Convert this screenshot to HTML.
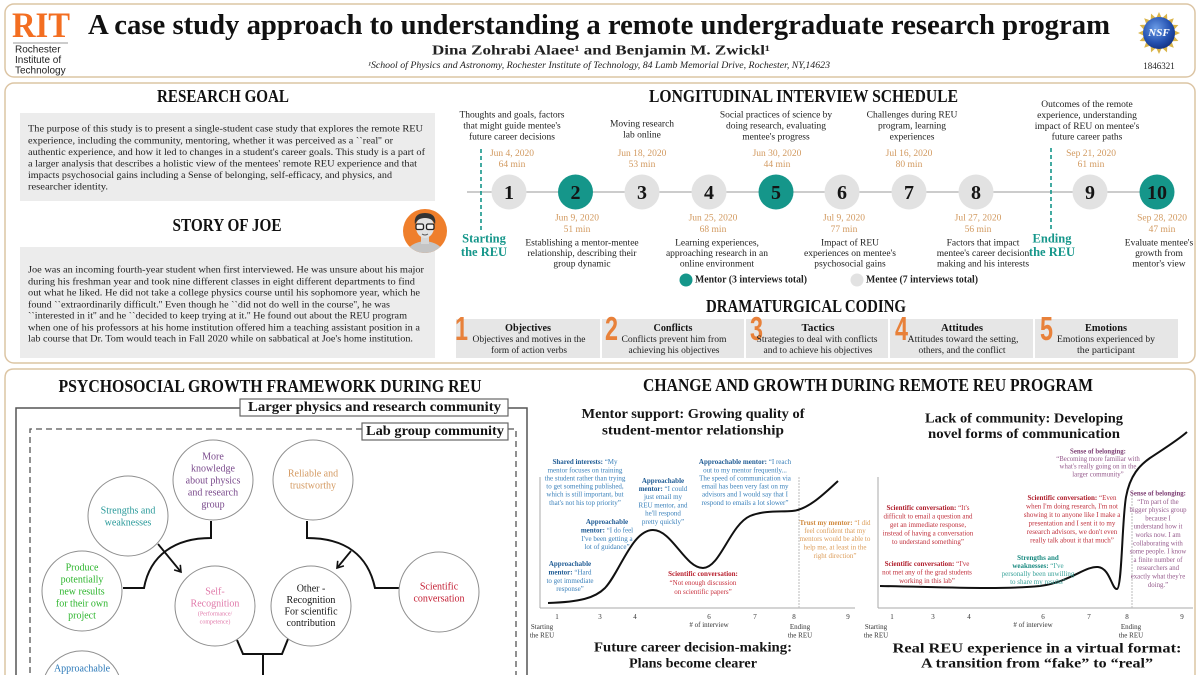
<!DOCTYPE html>
<html><head><meta charset="utf-8">
<style>
html,body{margin:0;padding:0;background:#fff;width:1200px;height:675px;overflow:hidden;}
svg{display:block;overflow:hidden;}
text{font-family:"Liberation Serif",serif;dominant-baseline:central;fill:#1a1a1a;}
.m{text-anchor:middle;}
.sans{font-family:"Liberation Sans",sans-serif;}
.h{font-weight:bold;font-size:18px;fill:#111;}
.p{font-size:9.3px;fill:#222;}
.t{font-size:9.5px;fill:#222;}
.d{font-size:9.5px;fill:#d29a60;}
.n{font-size:20px;font-weight:bold;fill:#151515;}
.c7{font-size:7px;}
.c6{font-size:6.8px;}
.ct{font-size:14px;font-weight:bold;fill:#151515;}
.ax{font-size:7px;fill:#333;}
.fc{font-size:10px;}
.dn{font-size:33px;font-weight:bold;fill:#e8813a;font-family:"Liberation Sans",sans-serif;dominant-baseline:alphabetic;}
.db{font-size:10.5px;font-weight:bold;fill:#151515;}
.dd{font-size:9.6px;fill:#222;}
</style></head><body>
<svg width="1200" height="675" viewBox="0 0 1200 675" xmlns="http://www.w3.org/2000/svg">
<defs>
 <marker id="ah" markerWidth="10" markerHeight="10" refX="7" refY="5" orient="auto" markerUnits="userSpaceOnUse"><path d="M1,1 L7,5 L1,9" fill="none" stroke="#111" stroke-width="1.6"/></marker>
 <radialGradient id="nsfg" cx="0.4" cy="0.35" r="0.75"><stop offset="0" stop-color="#6a9be6"/><stop offset="0.6" stop-color="#2451b0"/><stop offset="1" stop-color="#0f2a78"/></radialGradient>
 <clipPath id="av"><circle cx="425" cy="231" r="22"/></clipPath>
 <clipPath id="page"><rect x="0" y="0" width="1200" height="675"/></clipPath>
</defs>
<g clip-path="url(#page)">
<rect width="1200" height="675" fill="#fff"/>

<!-- panels -->
<rect x="5" y="4" width="1190" height="73" rx="9" fill="#fff" stroke="#dcc5a4" stroke-width="1.5"/>
<rect x="5" y="83" width="1190" height="280" rx="9" fill="#fff" stroke="#dcc5a4" stroke-width="1.5"/>
<path d="M5 675 V378 Q5 369 14 369 H1186 Q1195 369 1195 378 V675" fill="#fff" stroke="#dcc5a4" stroke-width="1.5"/>

<!-- header -->
<text x="12" y="25" font-size="36" font-weight="bold" style="fill:#f36e21" textLength="58" lengthAdjust="spacingAndGlyphs">RIT</text>
<line x1="13" y1="43" x2="68" y2="43" stroke="#9a9a9a" stroke-width="1"/>
<text class="sans" x="15" y="50" font-size="10" style="fill:#222">Rochester</text>
<text class="sans" x="15" y="60.5" font-size="10" style="fill:#222">Institute of</text>
<text class="sans" x="15" y="71" font-size="10" style="fill:#222">Technology</text>
<text class="m" x="599" y="25" font-size="29" font-weight="bold" style="fill:#111" textLength="1022" lengthAdjust="spacingAndGlyphs">A case study approach to understanding a remote undergraduate research program</text>
<text class="m" x="601" y="50" font-size="13.5" font-weight="bold" style="fill:#222" textLength="338" lengthAdjust="spacingAndGlyphs">Dina  Zohrabi  Alaee¹ and  Benjamin  M.  Zwickl¹</text>
<text class="m" x="599" y="65" font-size="9" font-style="italic" style="fill:#222" textLength="462" lengthAdjust="spacingAndGlyphs">¹School of Physics and Astronomy, Rochester Institute of Technology, 84 Lamb Memorial Drive, Rochester, NY,14623</text>
<!-- NSF -->
<polygon fill="#d9b44a" points="1180,33 1173.7,35.9 1178.4,41 1171.5,41.3 1173.8,47.8 1167.3,45.5 1167,52.4 1161.9,47.7 1159,54 1156.1,47.7 1151,52.4 1150.7,45.5 1144.2,47.8 1146.5,41.3 1139.6,41 1144.3,35.9 1138,33 1144.3,30.1 1139.6,25 1146.5,24.7 1144.2,18.2 1150.7,20.5 1151,13.6 1156.1,18.3 1159,12 1161.9,18.3 1167,13.6 1167.3,20.5 1173.8,18.2 1171.5,24.7 1178.4,25 1173.7,30.1"/>
<circle cx="1159" cy="33" r="16" fill="url(#nsfg)"/>
<text class="m" x="1159" y="33" font-size="11" font-weight="bold" font-style="italic" style="fill:#fff">NSF</text>
<text class="m" x="1159" y="66" font-size="9" style="fill:#222">1846321</text>

<!-- research goal -->
<text class="h m" x="223" y="96" textLength="132" lengthAdjust="spacingAndGlyphs">RESEARCH GOAL</text>
<rect x="20" y="113" width="415" height="88" fill="#ececec"/>
<text class="p" x="28" y="129.5" textLength="395" lengthAdjust="spacingAndGlyphs">The purpose of this study is to present a single-student case study that explores the remote REU</text>
<text class="p" x="28" y="141.5" textLength="365" lengthAdjust="spacingAndGlyphs">experience, including the community, mentoring, whether it was perceived as a ``real'' or</text>
<text class="p" x="28" y="153" textLength="397" lengthAdjust="spacingAndGlyphs">authentic experience, and how it led to changes in a student's career goals. This study is a part of</text>
<text class="p" x="28" y="164.5" textLength="389" lengthAdjust="spacingAndGlyphs">a larger analysis that describes a holistic view of the mentees' remote REU experience and that</text>
<text class="p" x="28" y="176" textLength="364" lengthAdjust="spacingAndGlyphs">impacts psychosocial gains including a Sense of belonging, self-efficacy, and physics, and</text>
<text class="p" x="28" y="187.7" textLength="80" lengthAdjust="spacingAndGlyphs">researcher identity.</text>

<!-- story of Joe -->
<text class="h m" x="227" y="225" textLength="109" lengthAdjust="spacingAndGlyphs">STORY OF JOE</text>
<rect x="20" y="247" width="415" height="111" fill="#ececec"/>
<text class="p" x="28" y="270.7" textLength="396" lengthAdjust="spacingAndGlyphs">Joe was an incoming fourth-year student when first interviewed. He was unsure about his major</text>
<text class="p" x="28" y="282.3" textLength="387" lengthAdjust="spacingAndGlyphs">during his freshman year and took nine different classes in eight different departments to find</text>
<text class="p" x="28" y="293.7" textLength="392" lengthAdjust="spacingAndGlyphs">out what he liked. He did not take a college physics course until his sophomore year, which he</text>
<text class="p" x="28" y="305.3" textLength="362" lengthAdjust="spacingAndGlyphs">found ``extraordinarily difficult.'' Even though he ``did not do well in the course'', he was</text>
<text class="p" x="28" y="316.7" textLength="379" lengthAdjust="spacingAndGlyphs">``interested in it'' and he ``decided to keep trying at it.'' He found out about the REU program</text>
<text class="p" x="28" y="328.3" textLength="392" lengthAdjust="spacingAndGlyphs">when one of his professors at his home institution offered him a teaching assistant position in a</text>
<text class="p" x="28" y="339.7" textLength="385" lengthAdjust="spacingAndGlyphs">lab course that Dr. Tom would teach in Fall 2020 while on sabbatical at Joe's home institution.</text>

<!-- avatar -->
<circle cx="425" cy="231" r="22" fill="#ef7f2c"/>
<g clip-path="url(#av)">
 <path d="M405 258 Q406 243 425 241 Q444 243 445 258 Z" fill="#c4c4c4"/>
 <rect x="421" y="236" width="8" height="8" fill="#d6d6d6"/>
 <ellipse cx="425" cy="227" rx="9" ry="11" fill="#e2e2e2"/>
 <path d="M415 225 Q413 213 425 213 Q437 213 435 225 Q433 218 425 218 Q417 218 415 225Z" fill="#333"/>
 <rect x="416" y="224" width="7.5" height="5.5" rx="1.5" fill="#f4f4f4" stroke="#222" stroke-width="1.3"/>
 <rect x="426.5" y="224" width="7.5" height="5.5" rx="1.5" fill="#f4f4f4" stroke="#222" stroke-width="1.3"/>
 <path d="M422 234 Q425 236 428 234" fill="none" stroke="#555" stroke-width="1"/>
</g>

<!-- longitudinal schedule -->
<text class="h m" x="803.5" y="96" textLength="309" lengthAdjust="spacingAndGlyphs">LONGITUDINAL INTERVIEW SCHEDULE</text>
<line x1="467" y1="192" x2="1157" y2="192" stroke="#999" stroke-width="1"/>
<line x1="481" y1="149" x2="481" y2="232" stroke="#15968a" stroke-width="1.6" stroke-dasharray="4,3"/>
<line x1="1051" y1="148" x2="1051" y2="232" stroke="#15968a" stroke-width="1.6" stroke-dasharray="4,3"/>
<text class="m" x="484" y="238.5" font-size="12.5" font-weight="bold" style="fill:#15968a">Starting</text>
<text class="m" x="484" y="252" font-size="12.5" font-weight="bold" style="fill:#15968a">the REU</text>
<text class="m" x="1052" y="238.5" font-size="12.5" font-weight="bold" style="fill:#15968a">Ending</text>
<text class="m" x="1052" y="252" font-size="12.5" font-weight="bold" style="fill:#15968a">the REU</text>

<g>
<circle cx="509" cy="192" r="17.5" fill="#e2e2e2"/><text class="n m" x="509" y="193">1</text>
<circle cx="575.5" cy="192" r="17.5" fill="#15968a"/><text class="n m" x="575.5" y="193">2</text>
<circle cx="642" cy="192" r="17.5" fill="#e2e2e2"/><text class="n m" x="642" y="193">3</text>
<circle cx="709" cy="192" r="17.5" fill="#e2e2e2"/><text class="n m" x="709" y="193">4</text>
<circle cx="776" cy="192" r="17.5" fill="#15968a"/><text class="n m" x="776" y="193">5</text>
<circle cx="842" cy="192" r="17.5" fill="#e2e2e2"/><text class="n m" x="842" y="193">6</text>
<circle cx="909" cy="192" r="17.5" fill="#e2e2e2"/><text class="n m" x="909" y="193">7</text>
<circle cx="976" cy="192" r="17.5" fill="#e2e2e2"/><text class="n m" x="976" y="193">8</text>
<circle cx="1090" cy="192" r="17.5" fill="#e2e2e2"/><text class="n m" x="1090" y="193">9</text>
<circle cx="1157" cy="192" r="17.5" fill="#15968a"/><text class="n m" x="1157" y="193" font-size="18">10</text>
</g>

<!-- top labels -->
<text class="t m" x="512" y="115.7">Thoughts and goals, factors</text>
<text class="t m" x="512" y="126.7">that might guide mentee's</text>
<text class="t m" x="512" y="137.5">future career decisions</text>
<text class="d m" x="512" y="154">Jun 4, 2020</text>
<text class="d m" x="512" y="165">64 min</text>

<text class="t m" x="642" y="124.5">Moving research</text>
<text class="t m" x="642" y="135.5">lab online</text>
<text class="d m" x="642" y="154">Jun 18, 2020</text>
<text class="d m" x="642" y="165">53 min</text>

<text class="t m" x="776" y="115.7">Social practices of science by</text>
<text class="t m" x="776" y="126.7">doing research, evaluating</text>
<text class="t m" x="776" y="137.5">mentee's progress</text>
<text class="d m" x="777" y="154">Jun 30, 2020</text>
<text class="d m" x="777" y="165">44 min</text>

<text class="t m" x="912" y="115.7">Challenges during REU</text>
<text class="t m" x="912" y="126.7">program, learning</text>
<text class="t m" x="912" y="137.5">experiences</text>
<text class="d m" x="909" y="154">Jul 16, 2020</text>
<text class="d m" x="909" y="165">80 min</text>

<text class="t m" x="1087" y="105">Outcomes of the remote</text>
<text class="t m" x="1087" y="116">experience, understanding</text>
<text class="t m" x="1087" y="127">impact of REU on mentee's</text>
<text class="t m" x="1087" y="137.5">future career paths</text>
<text class="d m" x="1091" y="154">Sep 21, 2020</text>
<text class="d m" x="1091" y="165">61 min</text>

<!-- bottom labels -->
<text class="d m" x="577" y="218.5">Jun 9, 2020</text>
<text class="d m" x="577" y="230">51 min</text>
<text class="t m" x="582" y="243.5">Establishing a mentor-mentee</text>
<text class="t m" x="582" y="254">relationship, describing  their</text>
<text class="t m" x="582" y="264.5">group dynamic</text>

<text class="d m" x="713" y="218.5">Jun 25, 2020</text>
<text class="d m" x="713" y="230">68 min</text>
<text class="t m" x="717" y="243.5">Learning experiences,</text>
<text class="t m" x="717" y="254">approaching research in an</text>
<text class="t m" x="717" y="264.5">online environment</text>

<text class="d m" x="844" y="218.5">Jul 9, 2020</text>
<text class="d m" x="844" y="230">77 min</text>
<text class="t m" x="850" y="243.5">Impact of REU</text>
<text class="t m" x="850" y="254">experiences on mentee's</text>
<text class="t m" x="850" y="264.5">psychosocial gains</text>

<text class="d m" x="978" y="218.5">Jul 27, 2020</text>
<text class="d m" x="978" y="230">56 min</text>
<text class="t m" x="983" y="243.5">Factors that impact</text>
<text class="t m" x="983" y="254">mentee's career decision</text>
<text class="t m" x="983" y="264.5">making and his interests</text>

<text class="d m" x="1162" y="218.5">Sep 28, 2020</text>
<text class="d m" x="1162" y="230">47 min</text>
<text class="t m" x="1159" y="243.5">Evaluate mentee's</text>
<text class="t m" x="1159" y="254">growth from</text>
<text class="t m" x="1159" y="264.5">mentor's view</text>

<!-- legend -->
<circle cx="686" cy="280" r="6.5" fill="#15968a"/>
<text x="695" y="280" font-size="10" font-weight="bold" style="fill:#222" textLength="112" lengthAdjust="spacingAndGlyphs">Mentor (3 interviews total)</text>
<circle cx="857" cy="280" r="6.5" fill="#e2e2e2"/>
<text x="866" y="280" font-size="10" font-weight="bold" style="fill:#222" textLength="112" lengthAdjust="spacingAndGlyphs">Mentee (7 interviews total)</text>

<!-- dramaturgical coding -->
<text class="h m" x="806" y="306" textLength="200" lengthAdjust="spacingAndGlyphs">DRAMATURGICAL CODING</text>
<rect x="456" y="319" width="144" height="39" fill="#e6e6e6"/>
<rect x="602" y="319" width="142" height="39" fill="#e6e6e6"/>
<rect x="746" y="319" width="142" height="39" fill="#e6e6e6"/>
<rect x="890" y="319" width="143" height="39" fill="#e6e6e6"/>
<rect x="1035" y="319" width="143" height="39" fill="#e6e6e6"/>
<text class="dn" x="455" y="340" textLength="13" lengthAdjust="spacingAndGlyphs">1</text>
<text class="dn" x="605" y="340" textLength="13" lengthAdjust="spacingAndGlyphs">2</text>
<text class="dn" x="750" y="340" textLength="13" lengthAdjust="spacingAndGlyphs">3</text>
<text class="dn" x="895" y="340" textLength="13" lengthAdjust="spacingAndGlyphs">4</text>
<text class="dn" x="1040" y="340" textLength="13" lengthAdjust="spacingAndGlyphs">5</text>

<text class="db m" x="528" y="328.5" textLength="46" lengthAdjust="spacingAndGlyphs">Objectives</text>
<text class="dd m" x="529" y="339.5" textLength="113" lengthAdjust="spacingAndGlyphs">Objectives and motives in the</text>
<text class="dd m" x="529" y="350.5" textLength="76" lengthAdjust="spacingAndGlyphs">form of action verbs</text>

<text class="db m" x="673" y="328.5" textLength="39" lengthAdjust="spacingAndGlyphs">Conflicts</text>
<text class="dd m" x="674" y="339.5" textLength="105" lengthAdjust="spacingAndGlyphs">Conflicts  prevent him from</text>
<text class="dd m" x="674" y="350.5" textLength="91" lengthAdjust="spacingAndGlyphs">achieving his objectives</text>

<text class="db m" x="818" y="328.5" textLength="33" lengthAdjust="spacingAndGlyphs">Tactics</text>
<text class="dd m" x="817" y="339.5" textLength="121" lengthAdjust="spacingAndGlyphs">Strategies to deal with conflicts</text>
<text class="dd m" x="818" y="350.5" textLength="109" lengthAdjust="spacingAndGlyphs">and to achieve his objectives</text>

<text class="db m" x="962" y="328.5" textLength="42" lengthAdjust="spacingAndGlyphs">Attitudes</text>
<text class="dd m" x="963" y="339.5" textLength="111" lengthAdjust="spacingAndGlyphs">Attitudes toward the setting,</text>
<text class="dd m" x="962" y="350.5" textLength="87" lengthAdjust="spacingAndGlyphs">others, and the conflict</text>

<text class="db m" x="1106" y="328.5" textLength="42" lengthAdjust="spacingAndGlyphs">Emotions</text>
<text class="dd m" x="1106" y="339.5" textLength="98" lengthAdjust="spacingAndGlyphs">Emotions experienced by</text>
<text class="dd m" x="1106" y="350.5" textLength="58" lengthAdjust="spacingAndGlyphs">the participant</text>

<!-- psychosocial framework -->
<text class="h m" x="270" y="386" textLength="423" lengthAdjust="spacingAndGlyphs">PSYCHOSOCIAL GROWTH FRAMEWORK DURING REU</text>
<path d="M240 408 H16 V675 M508 408 H527 V675" fill="none" stroke="#555" stroke-width="1.5"/>
<rect x="240" y="399" width="268" height="17" fill="#fff" stroke="#666" stroke-width="1.2"/>
<text class="m" x="374.5" y="407.5" font-size="14" font-weight="bold" style="fill:#151515" textLength="253" lengthAdjust="spacingAndGlyphs">Larger physics and research community</text>
<path d="M362 429 H30 V675 M508 429 H516 V675" fill="none" stroke="#555" stroke-width="1.3" stroke-dasharray="6,4"/>
<rect x="362" y="423" width="146" height="17" fill="#fff" stroke="#666" stroke-width="1.2"/>
<text class="m" x="435" y="431.5" font-size="14" font-weight="bold" style="fill:#151515" textLength="138" lengthAdjust="spacingAndGlyphs">Lab group community</text>

<!-- connectors -->
<path d="M211 521 V538 C175 538 150 555 144 588 H123" fill="none" stroke="#111" stroke-width="2"/>
<path d="M307 521 V538 C345 538 368 555 375 588 H399" fill="none" stroke="#111" stroke-width="2"/>
<line x1="158" y1="544" x2="181" y2="572" stroke="#111" stroke-width="1.8" marker-end="url(#ah)"/>
<line x1="351" y1="551" x2="337" y2="568" stroke="#111" stroke-width="1.8" marker-end="url(#ah)"/>
<path d="M237 640 L243 654 H282 L288 639" fill="none" stroke="#111" stroke-width="2"/>
<line x1="263" y1="654" x2="263" y2="675" stroke="#111" stroke-width="2"/>

<!-- circles -->
<g fill="#fff" stroke="#8f8f8f" stroke-width="1">
<circle cx="213" cy="480" r="40"/>
<circle cx="313" cy="480" r="40"/>
<circle cx="128" cy="516" r="40"/>
<circle cx="82" cy="591" r="40"/>
<circle cx="215" cy="606" r="40"/>
<circle cx="311" cy="606" r="40"/>
<circle cx="439" cy="592" r="40"/>
<path d="M45.3 675 A40 40 0 0 1 118.7 675"/>
</g>
<g>
<text class="fc m" x="213" y="457" style="fill:#7a4a8c">More</text>
<text class="fc m" x="213" y="469" style="fill:#7a4a8c">knowledge</text>
<text class="fc m" x="213" y="481" style="fill:#7a4a8c">about physics</text>
<text class="fc m" x="213" y="493" style="fill:#7a4a8c">and research</text>
<text class="fc m" x="213" y="505" style="fill:#7a4a8c">group</text>
<text class="fc m" x="313" y="474" style="fill:#d49a62">Reliable and</text>
<text class="fc m" x="313" y="486" style="fill:#d49a62">trustworthy</text>
<text class="fc m" x="128" y="511" style="fill:#2a9a9a">Strengths and</text>
<text class="fc m" x="128" y="523" style="fill:#2a9a9a">weaknesses</text>
<text class="fc m" x="82" y="568" style="fill:#2db52d">Produce</text>
<text class="fc m" x="82" y="580" style="fill:#2db52d">potentially</text>
<text class="fc m" x="82" y="592" style="fill:#2db52d">new results</text>
<text class="fc m" x="82" y="604" style="fill:#2db52d">for their own</text>
<text class="fc m" x="82" y="616" style="fill:#2db52d">project</text>
<text class="fc m" x="215" y="592" style="fill:#e07aaa">Self-</text>
<text class="fc m" x="215" y="604" style="fill:#e07aaa">Recognition</text>
<text class="m" x="215" y="614.5" font-size="6" style="fill:#e07aaa">(Performance/</text>
<text class="m" x="215" y="622.5" font-size="6" style="fill:#e07aaa">competence)</text>
<text class="fc m" x="311" y="589" style="fill:#151515">Other -</text>
<text class="fc m" x="311" y="600.5" style="fill:#151515">Recognition</text>
<text class="fc m" x="311" y="612" style="fill:#151515">For scientific</text>
<text class="fc m" x="311" y="623.5" style="fill:#151515">contribution</text>
<text class="fc m" x="439" y="587" style="fill:#c42035">Scientific</text>
<text class="fc m" x="439" y="599" style="fill:#c42035">conversation</text>
<text class="fc m" x="82" y="669" style="fill:#2a78b8">Approachable</text>
</g>

<!-- change and growth -->
<text class="h m" x="868" y="385" textLength="450" lengthAdjust="spacingAndGlyphs">CHANGE AND GROWTH DURING REMOTE REU PROGRAM</text>

<!-- chart 1 -->
<text class="ct m" x="693" y="414.5" textLength="223" lengthAdjust="spacingAndGlyphs">Mentor support: Growing quality of</text>
<text class="ct m" x="693" y="431" textLength="182" lengthAdjust="spacingAndGlyphs">student-mentor relationship</text>
<line x1="540" y1="477" x2="540" y2="608" stroke="#aaa" stroke-width="1"/>
<line x1="540" y1="608" x2="855" y2="608" stroke="#aaa" stroke-width="1"/>
<line x1="799" y1="477" x2="799" y2="608" stroke="#bbb" stroke-width="1" stroke-dasharray="2,1"/>
<g>
<text class="ax m" x="557" y="617">1</text><text class="ax m" x="600" y="617">3</text><text class="ax m" x="635" y="617">4</text>
<text class="ax m" x="709" y="617">6</text><text class="ax m" x="755" y="617">7</text><text class="ax m" x="794" y="617">8</text><text class="ax m" x="848" y="617">9</text>
<text class="ax m" x="709" y="625"># of interview</text>
<text class="ax m" x="542" y="627">Starting</text><text class="ax m" x="542" y="635.5">the REU</text>
<text class="ax m" x="800" y="627">Ending</text><text class="ax m" x="800" y="635.5">the REU</text>
</g>
<path d="M548,603 C580,602 595,598 605,588 C620,572 632,530 653,530 C672,530 685,568 703,568 C720,568 730,525 750,516 C765,510 780,512 792,511 C808,510 825,493 838,481" fill="none" stroke="#111" stroke-width="2"/>

<g>
<text class="c7 m" x="585" y="462" style="fill:#3a80ba"><tspan font-weight="bold" style="fill:#1f5b94">Shared interests:</tspan> “My</text>
<text class="c7 m" x="585" y="470.5" style="fill:#3a80ba">mentor focuses on training</text>
<text class="c7 m" x="585" y="478.5" style="fill:#3a80ba">the student rather than trying</text>
<text class="c7 m" x="585" y="486.5" style="fill:#3a80ba">to get something published,</text>
<text class="c7 m" x="585" y="494.5" style="fill:#3a80ba">which is still important, but</text>
<text class="c7 m" x="585" y="503" style="fill:#3a80ba">that's not his top priority”</text>

<text class="c7 m" x="607" y="522" font-weight="bold" style="fill:#1f5b94">Approachable</text>
<text class="c7 m" x="607" y="530.5" style="fill:#3a80ba"><tspan font-weight="bold" style="fill:#1f5b94">mentor:</tspan> “I do feel</text>
<text class="c7 m" x="607" y="539" style="fill:#3a80ba">I've been getting a</text>
<text class="c7 m" x="607" y="547" style="fill:#3a80ba">lot of guidance”</text>

<text class="c7 m" x="570" y="564" font-weight="bold" style="fill:#1f5b94">Approachable</text>
<text class="c7 m" x="570" y="572.5" style="fill:#3a80ba"><tspan font-weight="bold" style="fill:#1f5b94">mentor:</tspan> “Hard</text>
<text class="c7 m" x="570" y="581" style="fill:#3a80ba">to get immediate</text>
<text class="c7 m" x="570" y="589" style="fill:#3a80ba">response”</text>

<text class="c7 m" x="663" y="481" font-weight="bold" style="fill:#1f5b94">Approachable</text>
<text class="c7 m" x="663" y="489" style="fill:#3a80ba"><tspan font-weight="bold" style="fill:#1f5b94">mentor:</tspan> “I could</text>
<text class="c7 m" x="663" y="497" style="fill:#3a80ba">just email my</text>
<text class="c7 m" x="663" y="505.5" style="fill:#3a80ba">REU mentor, and</text>
<text class="c7 m" x="663" y="513.5" style="fill:#3a80ba">he'll respond</text>
<text class="c7 m" x="663" y="522" style="fill:#3a80ba">pretty quickly”</text>

<text class="c7 m" x="745" y="462" style="fill:#3a80ba"><tspan font-weight="bold" style="fill:#1f5b94">Approachable mentor:</tspan> “I reach</text>
<text class="c7 m" x="745" y="470.5" style="fill:#3a80ba">out to my mentor frequently...</text>
<text class="c7 m" x="745" y="478.5" style="fill:#3a80ba">The speed of communication via</text>
<text class="c7 m" x="745" y="486.5" style="fill:#3a80ba">email has been very fast on my</text>
<text class="c7 m" x="745" y="494.5" style="fill:#3a80ba">advisors and I would say that I</text>
<text class="c7 m" x="745" y="503" style="fill:#3a80ba">respond to emails a lot slower”</text>

<text class="c7 m" x="703" y="574" font-weight="bold" style="fill:#b81e2c">Scientific conversation:</text>
<text class="c7 m" x="703" y="583" style="fill:#c8323e">“Not enough discussion</text>
<text class="c7 m" x="703" y="592" style="fill:#c8323e">on scientific papers”</text>

<text class="c7 m" x="835" y="523" style="fill:#dc9d5a"><tspan font-weight="bold" style="fill:#d08a40">Trust my mentor:</tspan> “I did</text>
<text class="c7 m" x="835" y="531" style="fill:#dc9d5a">feel confident that my</text>
<text class="c7 m" x="835" y="539" style="fill:#dc9d5a">mentors would be able to</text>
<text class="c7 m" x="835" y="547.5" style="fill:#dc9d5a">help me, at least in the</text>
<text class="c7 m" x="835" y="556" style="fill:#dc9d5a">right direction”</text>
</g>
<text class="ct m" x="693" y="648" textLength="198" lengthAdjust="spacingAndGlyphs">Future career decision-making:</text>
<text class="ct m" x="693" y="664" textLength="128" lengthAdjust="spacingAndGlyphs">Plans become clearer</text>

<!-- chart 2 -->
<text class="ct m" x="1024" y="419" textLength="198" lengthAdjust="spacingAndGlyphs">Lack of community: Developing</text>
<text class="ct m" x="1024" y="434.5" textLength="192" lengthAdjust="spacingAndGlyphs">novel forms of communication</text>
<line x1="878" y1="477" x2="878" y2="608" stroke="#aaa" stroke-width="1"/>
<line x1="878" y1="608" x2="1193" y2="608" stroke="#aaa" stroke-width="1"/>
<line x1="1132" y1="492" x2="1132" y2="608" stroke="#bbb" stroke-width="1" stroke-dasharray="2,1"/>
<g>
<text class="ax m" x="892" y="617">1</text><text class="ax m" x="933" y="617">3</text><text class="ax m" x="969" y="617">4</text>
<text class="ax m" x="1043" y="617">6</text><text class="ax m" x="1089" y="617">7</text><text class="ax m" x="1127" y="617">8</text><text class="ax m" x="1182" y="617">9</text>
<text class="ax m" x="1033" y="625"># of interview</text>
<text class="ax m" x="876" y="627">Starting</text><text class="ax m" x="876" y="635.5">the REU</text>
<text class="ax m" x="1131" y="627">Ending</text><text class="ax m" x="1131" y="635.5">the REU</text>
</g>
<path d="M880,586 C940,587 1000,590 1040,586 C1070,582 1085,566 1098,567 C1110,568 1112,590 1117,589 C1122,588 1122,520 1126,497 C1130,475 1140,465 1150,458 C1165,448 1178,440 1187,432" fill="none" stroke="#111" stroke-width="2"/>

<text class="c6 m" x="1098" y="452" font-weight="bold" style="fill:#7d3f74">Sense of belonging:</text>
<text class="c6 m" x="1098" y="459.5" style="fill:#94598b">“Becoming more familiar with</text>
<text class="c6 m" x="1098" y="467" style="fill:#94598b">what's really going on in the</text>
<text class="c6 m" x="1098" y="475" style="fill:#94598b">larger community”</text>

<text class="c7 m" x="928" y="508" style="fill:#c0303c"><tspan font-weight="bold" style="fill:#b01e2c">Scientific conversation:</tspan> “It's</text>
<text class="c7 m" x="928" y="516.5" style="fill:#c0303c">difficult to email a question and</text>
<text class="c7 m" x="928" y="525" style="fill:#c0303c">get an immediate response,</text>
<text class="c7 m" x="928" y="533.5" style="fill:#c0303c">instead of having a conversation</text>
<text class="c7 m" x="928" y="542" style="fill:#c0303c">to understand something”</text>

<text class="c7 m" x="927" y="564" style="fill:#c0303c"><tspan font-weight="bold" style="fill:#b01e2c">Scientific conversation:</tspan> “I've</text>
<text class="c7 m" x="927" y="572.5" style="fill:#c0303c">not met any of the grad students</text>
<text class="c7 m" x="927" y="581" style="fill:#c0303c">working in this lab”</text>

<text class="c7 m" x="1072" y="498" style="fill:#c0303c"><tspan font-weight="bold" style="fill:#b01e2c">Scientific conversation:</tspan> “Even</text>
<text class="c7 m" x="1072" y="506.5" style="fill:#c0303c">when I'm doing research, I'm not</text>
<text class="c7 m" x="1072" y="515" style="fill:#c0303c">showing it to anyone like I make a</text>
<text class="c7 m" x="1072" y="523.5" style="fill:#c0303c">presentation and I sent it to my</text>
<text class="c7 m" x="1072" y="532" style="fill:#c0303c">research advisors, we don't even</text>
<text class="c7 m" x="1072" y="540.5" style="fill:#c0303c">really talk about it that much”</text>

<text class="c7 m" x="1038" y="558" font-weight="bold" style="fill:#1a8a80">Strengths and</text>
<text class="c7 m" x="1038" y="566" style="fill:#3aa39a"><tspan font-weight="bold" style="fill:#1a8a80">weaknesses:</tspan> “I've</text>
<text class="c7 m" x="1038" y="574" style="fill:#3aa39a">personally been unwilling</text>
<text class="c7 m" x="1038" y="582" style="fill:#3aa39a">to share my results”</text>

<text class="c6 m" x="1158" y="494" font-weight="bold" style="fill:#7d3f74">Sense of belonging:</text>
<text class="c6 m" x="1158" y="502.3" style="fill:#94598b">“I'm part of the</text>
<text class="c6 m" x="1158" y="510.6" style="fill:#94598b">bigger physics group</text>
<text class="c6 m" x="1158" y="518.9" style="fill:#94598b">because I</text>
<text class="c6 m" x="1158" y="527.2" style="fill:#94598b">understand how it</text>
<text class="c6 m" x="1158" y="535.5" style="fill:#94598b">works now. I am</text>
<text class="c6 m" x="1158" y="543.8" style="fill:#94598b">collaborating with</text>
<text class="c6 m" x="1158" y="552.1" style="fill:#94598b">some people. I know</text>
<text class="c6 m" x="1158" y="560.4" style="fill:#94598b">a finite number of</text>
<text class="c6 m" x="1158" y="568.7" style="fill:#94598b">researchers and</text>
<text class="c6 m" x="1158" y="577" style="fill:#94598b">exactly what they're</text>
<text class="c6 m" x="1158" y="585.3" style="fill:#94598b">doing.”</text>

<text class="ct m" x="1037" y="649" textLength="289" lengthAdjust="spacingAndGlyphs">Real REU experience in a virtual format:</text>
<text class="ct m" x="1037" y="664" textLength="232" lengthAdjust="spacingAndGlyphs">A transition from “fake” to “real”</text>
</g>
</svg>
</body></html>
